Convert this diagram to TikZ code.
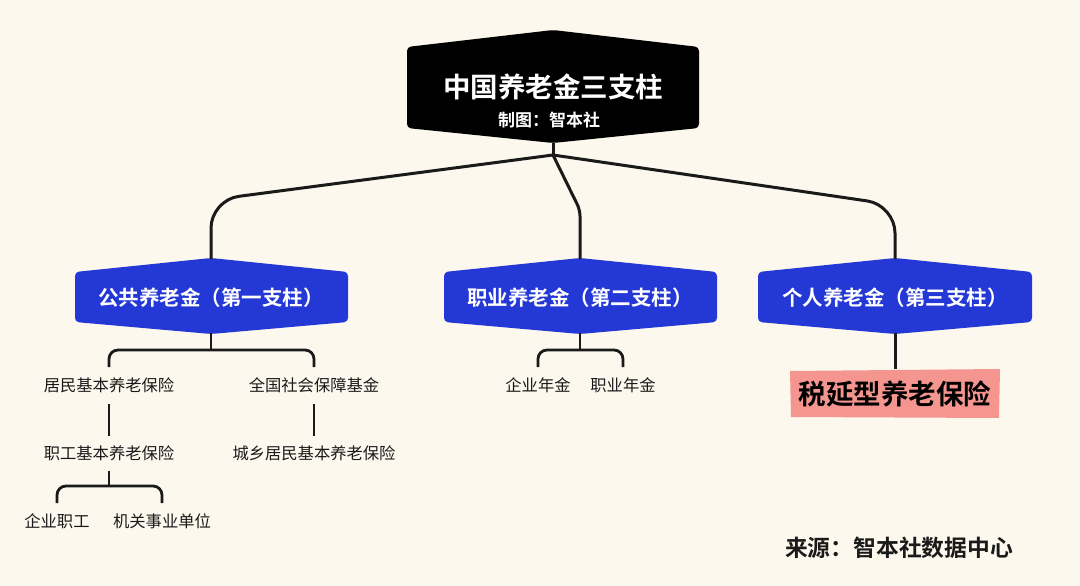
\documentclass[tikz,border=0pt]{standalone}
\usepackage{fontspec}
\setmainfont{Noto Sans CJK SC}[BoldFont={Noto Sans CJK SC Bold}]
\definecolor{bg}{HTML}{FCF8EE}
\definecolor{pillar}{HTML}{2438D6}
\definecolor{ink}{HTML}{1A1A1A}
\definecolor{pinkbox}{HTML}{F4968F}
\tikzset{
  conn/.style={draw=ink, line width=3pt, rounded corners=28pt},
  bracket/.style={draw=ink, line width=2.8pt, rounded corners=9pt},
  pillartext/.style={text=white, font=\fontsize{20.5}{24}\selectfont\bfseries, inner sep=0pt},
  leaf/.style={text=ink, font=\fontsize{16.3}{19}\selectfont, inner sep=0pt},
  hexa/.style={rounded corners=4pt},
}
\begin{document}
\begin{tikzpicture}[x=1pt,y=-1pt]
\fill[bg] (0,0) rectangle (1080,586);
\useasboundingbox (0,0) rectangle (1080,586);

% title box
\fill[black,hexa] (407,47) -- (553,30) -- (699,47) -- (699,128) -- (553,143) -- (407,128) -- cycle;
\coordinate (tb) at (553,143);
\node[text=white, font=\fontsize{27.5}{30}\selectfont\bfseries, inner sep=0pt] (title) at (553,87) {中国养老金三支柱};
\node[text=white, font=\fontsize{17}{20}\selectfont\bfseries, inner sep=0pt] (sub) at (549,120) {制图：智本社};

% pillar boxes
\fill[pillar,hexa] (75,272) -- (211,258) -- (348,272) -- (348,322) -- (211,334) -- (75,322) -- cycle;
\fill[pillar,hexa] (444,272) -- (580,258) -- (717,272) -- (717,322) -- (580,334) -- (444,322) -- cycle;
\fill[pillar,hexa] (758,272) -- (895,258) -- (1032,272) -- (1032,322) -- (895,334) -- (758,322) -- cycle;
\coordinate (p1t) at (211,259);
\coordinate (p2t) at (580,259);
\coordinate (p3t) at (895,259);
\coordinate (p1b) at (211,333);
\coordinate (p2b) at (580,333);
\coordinate (p3b) at (895,333);
\node[pillartext] (p1) at (211,298) {公共养老金（第一支柱）};
\node[pillartext] (p2) at (580,298) {职业养老金（第二支柱）};
\node[pillartext] (p3) at (895,298) {个人养老金（第三支柱）};

% top connectors
\coordinate (j) at (553,155);
\draw[ink, line width=3pt] (tb) -- (j);
\draw[conn] (j) -- (211,200) -- (p1t);
\draw[conn, rounded corners=6pt] (j) -- (580,210) -- (p2t);
\draw[conn] (j) -- (895,205) -- (p3t);

% pillar 1 subtree
\node[leaf] (a1) at (109,385) {居民基本养老保险};
\node[leaf] (a2) at (314,385) {全国社会保障基金};
\node[leaf] (a3) at (109,453) {职工基本养老保险};
\node[leaf] (a4) at (314,453) {城乡居民基本养老保险};
\node[leaf] (a5) at (57,521) {企业职工};
\node[leaf] (a6) at (162,521) {机关事业单位};
\draw[ink, line width=2.8pt] (p1b) -- (211,350);
\draw[bracket] (109,367) -- (109,350) -- (314,350) -- (314,367);
\draw[ink, line width=2.8pt] (109,404) -- (109,436);
\draw[ink, line width=2.8pt] (314,404) -- (314,436);
\draw[ink, line width=2.8pt] (109,471) -- (109,486);
\draw[bracket] (57,503) -- (57,486) -- (162,486) -- (162,503);

% pillar 2 subtree
\node[leaf] (b1) at (538,385) {企业年金};
\node[leaf] (b2) at (623,385) {职业年金};
\draw[ink, line width=2.8pt] (p2b) -- (580,350);
\draw[bracket] (538,367) -- (538,350) -- (623,350) -- (623,367);

% pillar 3
\fill[pinkbox] (790,371) -- (1000,369) -- (999,418) -- (791,417) -- cycle;
\node[text=black, font=\fontsize{27.5}{30}\selectfont\bfseries, inner sep=0pt] (c1) at (895,394) {税延型养老保险};
\draw[ink, line width=3pt] (p3b) -- (c1.north |- 0,369);

% source
\node[text=ink, font=\fontsize{22.8}{26}\selectfont\bfseries, inner sep=0pt] (src) at (899,548) {来源：智本社数据中心};
\end{tikzpicture}
\end{document}
